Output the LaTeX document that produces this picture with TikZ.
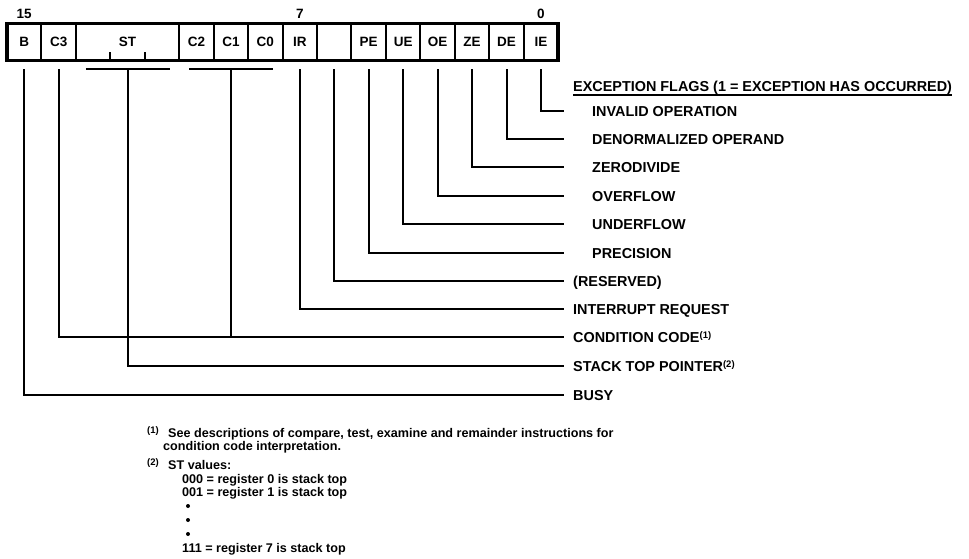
\documentclass[tikz,border=0pt]{standalone}
\usepackage{fontspec}
\setmainfont{Liberation Sans}
\usetikzlibrary{positioning}

\newcommand\cellfont{\fontsize{13.5}{15}\selectfont\bfseries}
\newcommand\flagfont{\fontsize{14.4}{16}\selectfont\bfseries}
\newcommand\notefont{\fontsize{12.6}{14}\selectfont\bfseries}
\newcommand\markfont{\fontsize{9.5}{10}\selectfont\bfseries}
\newcommand\refmark[1]{\raisebox{3.2pt}{\markfont(#1)}}

\begin{document}
\begin{tikzpicture}
[
x=1pt, y=-1pt,
cell/.style={rectangle, draw, line width=2pt, outer sep=0pt, inner sep=0pt, minimum width=34.45pt, minimum height=37pt, font=\cellfont},
cell-wide/.style={cell, minimum width=103.35pt},
bit-no/.style={inner sep=0pt, font=\cellfont},
flag/.style={anchor=west, inner sep=0pt, text height=10.3pt, text depth=0pt, font=\flagfont},
wire/.style={line width=2pt},
bar/.style={line width=2.5pt},
note/.style={anchor=base west, inner sep=0pt, font=\notefont},
note-mk/.style={anchor=base west, inner sep=0pt, font=\markfont},
dot/.style={circle, fill, inner sep=0pt, minimum size=4pt}
]
\useasboundingbox (0,0) rectangle (969,558);

% register
\node (b)     [cell]                      at (24.2,42) {B};
\node (c3)    [cell,      right = 0pt of b]     {C3};
\node (st)    [cell-wide, right = 0pt of c3]    {ST};
\node (c2)    [cell,      right = 0pt of st]    {C2};
\node (c1)    [cell,      right = 0pt of c2]    {C1};
\node (c0)    [cell,      right = 0pt of c1]    {C0};
\node (ir)    [cell,      right = 0pt of c0]    {IR};
\node (rsv)   [cell,      right = 0pt of ir]    {};
\node (pe)    [cell,      right = 0pt of rsv]   {PE};
\node (ue)    [cell,      right = 0pt of pe]    {UE};
\node (oe)    [cell,      right = 0pt of ue]    {OE};
\node (ze)    [cell,      right = 0pt of oe]    {ZE};
\node (de)    [cell,      right = 0pt of ze]    {DE};
\node (ie)    [cell,      right = 0pt of de]    {IE};
\draw [line width=3.5pt] (b.north west) rectangle (ie.south east);
\draw [wire] ([xshift=34.45pt]st.south west) -- ++(0,-9);
\draw [wire] ([xshift=68.9pt]st.south west) -- ++(0,-9);

\coordinate (num-row)  at (0,13.5);
\node (bit-15) [bit-no] at (b  |- num-row) {15};
\node (bit-7)  [bit-no] at (ir |- num-row) {7};
\node (bit-0)  [bit-no] at (ie |- num-row) {0};

% labels
\node (hdr)     [flag] at (573,86.5) {EXCEPTION FLAGS (1 = EXCEPTION HAS OCCURRED)};
\node (lbl-ie)  [flag] at (592,111)  {INVALID OPERATION};
\node (lbl-de)  [flag] at (592,139)  {DENORMALIZED OPERAND};
\node (lbl-ze)  [flag] at (592,167)  {ZERODIVIDE};
\node (lbl-oe)  [flag] at (592,196)  {OVERFLOW};
\node (lbl-ue)  [flag] at (592,224)  {UNDERFLOW};
\node (lbl-pe)  [flag] at (592,253)  {PRECISION};
\node (lbl-rsv) [flag] at (573,281)  {(RESERVED)};
\node (lbl-ir)  [flag] at (573,309)  {INTERRUPT REQUEST};
\node (lbl-cc)  [flag] at (573,337)  {CONDITION CODE\refmark{1}};
\node (lbl-st)  [flag] at (573,366)  {STACK TOP POINTER\refmark{2}};
\node (lbl-b)   [flag] at (573,395)  {BUSY};
\draw [line width=1.4pt] ([yshift=-3pt]hdr.south west) -- ([yshift=-3pt]hdr.south east);

% connectors
\coordinate (wire-top) at (0,69);
\coordinate (rim)      at (564,0);
\draw [wire] (ie  |- wire-top) |- (lbl-ie.west  -| rim);
\draw [wire] (de  |- wire-top) |- (lbl-de.west  -| rim);
\draw [wire] (ze  |- wire-top) |- (lbl-ze.west  -| rim);
\draw [wire] (oe  |- wire-top) |- (lbl-oe.west  -| rim);
\draw [wire] (ue  |- wire-top) |- (lbl-ue.west  -| rim);
\draw [wire] (pe  |- wire-top) |- (lbl-pe.west  -| rim);
\draw [wire] (rsv |- wire-top) |- (lbl-rsv.west -| rim);
\draw [wire] (ir  |- wire-top) |- (lbl-ir.west  -| rim);
\draw [bar]  ([shift={(10,8.5)}]c2.south west) -- ([shift={(-10,8.5)}]c0.south east);
\draw [wire] (c1  |- wire-top) -- (c1 |- lbl-cc.west);
\draw [wire] (c3  |- wire-top) |- (lbl-cc.west  -| rim);
\draw [bar]  ([shift={(10,8.5)}]st.south west) -- ([shift={(-9,8.5)}]st.south east);
\draw [wire] (st  |- wire-top) |- (lbl-st.west  -| rim);
\draw [wire] (b   |- wire-top) |- (lbl-b.west   -| rim);

% notes
\node (note-1-mk) [note-mk] at (147,433) {(1)};
\node (note-1-a)  [note]    at (168,437) {See descriptions of compare, test, examine and remainder instructions for};
\node (note-1-b)  [note]    at (163,450) {condition code interpretation.};
\node (note-2-mk) [note-mk] at (147,465) {(2)};
\node (note-2-a)  [note]    at (168,469) {ST values:};
\node (st-000)    [note]    at (182,483) {000 = register 0 is stack top};
\node (st-001)    [note]    at (182,496) {001 = register 1 is stack top};
\node (dot-1)     [dot]     at (188,506) {};
\node (dot-2)     [dot]     at (188,520) {};
\node (dot-3)     [dot]     at (188,534) {};
\node (st-111)    [note]    at (182,552) {111 = register 7 is stack top};

\end{tikzpicture}
\end{document}
